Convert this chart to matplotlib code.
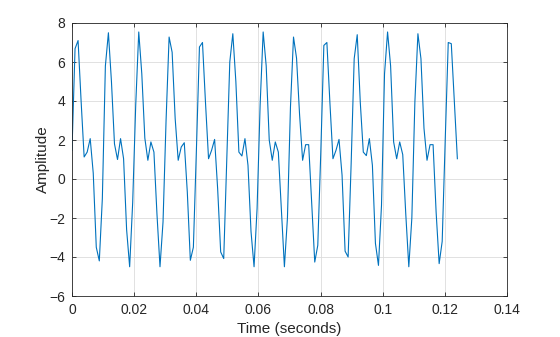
import numpy as np
import matplotlib
matplotlib.use("Agg")
import matplotlib.pyplot as plt

# --- Data ---
FS = 1024  # sample rate (Hz), 128 samples
amplitude = [
    1.47, 6.68, 7.1, 4.0, 1.13, 1.38, 2.07, 0.3, -3.5, -4.2,
    -1.0, 5.8, 7.5, 5.0, 1.8, 1.0, 2.07, 1.04, -2.6, -4.5,
    -1.2, 3.8, 7.54, 5.4, 2.1, 0.96, 1.9, 1.38, -1.8, -4.5,
    -2.2, 3.0, 7.28, 6.5, 3.1, 0.96, 1.64, 1.86, -0.67, -4.17,
    -3.5, 1.5, 6.77, 7.0, 3.9, 1.04, 1.47, 2.03, -0.5, -3.74,
    -4.08, 1.0, 6.0, 7.45, 5.0, 1.38, 1.18, 2.07, 0.7, -2.7,
    -4.5, -1.5, 3.8, 7.54, 5.8, 2.0, 0.96, 1.9, 1.38, -1.6,
    -4.5, -2.0, 3.7, 7.28, 6.2, 3.3, 0.96, 1.76, 1.76, -1.2,
    -4.26, -3.4, 1.4, 6.85, 7.0, 3.9, 1.04, 1.47, 2.03, 0.2,
    -3.7, -4.0, 0.8, 6.17, 7.4, 3.95, 1.38, 1.2, 2.07, 0.7,
    -3.3, -4.43, -1.35, 5.4, 7.54, 5.8, 1.9, 1.04, 1.9, 1.25,
    -1.8, -4.5, -2.0, 3.95, 7.45, 6.17, 2.6, 0.96, 1.76, 1.76,
    -1.7, -4.34, -3.2, 2.0, 7.0, 6.94, 3.95, 1.04,
]
time_s = np.arange(len(amplitude)) / FS

x_ticks = [0, 0.02, 0.04, 0.06, 0.08, 0.1, 0.12, 0.14]
x_tick_labels = ["0", "0.02", "0.04", "0.06", "0.08", "0.1", "0.12", "0.14"]
y_ticks = [-6, -4, -2, 0, 2, 4, 6, 8]

# --- Style (MATLAB-ish) ---
plt.rcParams['font.family'] = ['Liberation Sans', 'DejaVu Sans']
AX_COLOR = '#262626'

fig = plt.figure(figsize=(5.6, 3.37), dpi=100)
ax = fig.add_axes([72 / 560, 1 - 296 / 337, 435 / 560, 273 / 337])

ax.plot(time_s, amplitude, color='#0072BD', linewidth=0.8)

ax.set_xlim(0, 0.14)
ax.set_ylim(-6, 8)
ax.set_xticks(x_ticks)
ax.set_xticklabels(x_tick_labels)
ax.set_yticks(y_ticks)
ax.grid(True, color='#dcdcdc', linewidth=0.6)
ax.set_axisbelow(True)

for side in ax.spines.values():
    side.set_color(AX_COLOR)
    side.set_linewidth(0.6)
ax.tick_params(direction='in', length=3, width=0.6, colors=AX_COLOR,
               labelsize=10, top=True, right=True, pad=5)

ax.set_xlabel('Time (seconds)', fontsize=11, color=AX_COLOR, labelpad=4)
ax.set_ylabel('Amplitude', fontsize=11, color=AX_COLOR, labelpad=-1)

fig.savefig('out.png', dpi=100)
